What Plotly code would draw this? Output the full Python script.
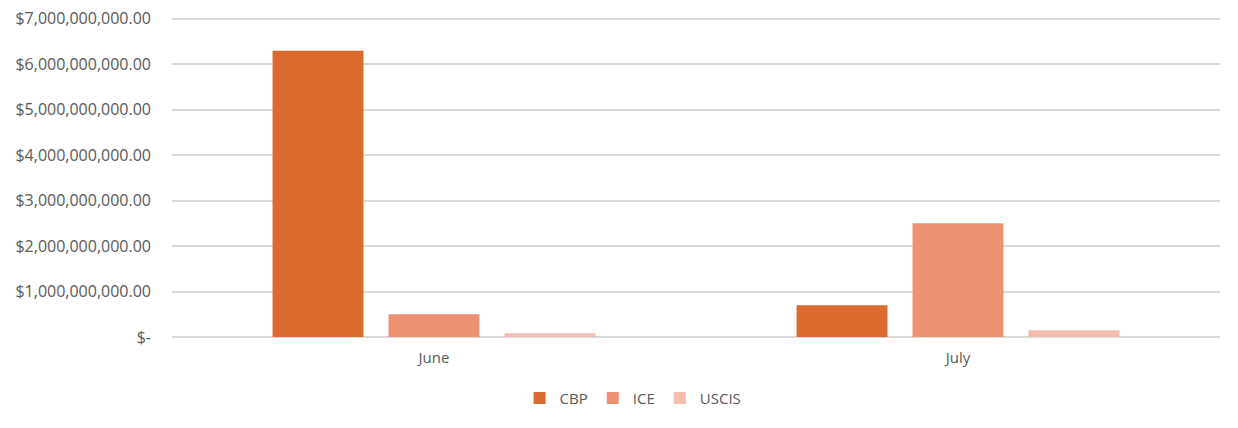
import plotly.graph_objects as go

# data
months = ["June", "July"]
cbp = [6.29e9, 0.70e9]
ice = [0.50e9, 2.50e9]
uscis = [0.08e9, 0.15e9]

tick_vals = [0, 1e9, 2e9, 3e9, 4e9, 5e9, 6e9, 7e9]
tick_text = ["$-"] + [f"${v:,.2f}" for v in tick_vals[1:]]

series = [
    ("CBP", cbp, "#DA6A2D"),
    ("ICE", ice, "#EC9272"),
    ("USCIS", uscis, "#F3BDB0"),
]

fig = go.Figure()
for name, vals, color in series:
    fig.add_trace(go.Bar(x=months, y=vals, name=name, marker=dict(color=color, line_width=0)))

# page body adds an 8px margin, so the figure is a little smaller than the window
fig.update_layout(
    width=1230, height=420,
    margin=dict(l=164, r=18, t=6, b=91),
    paper_bgcolor="white", plot_bgcolor="white",
    barmode="group", bargap=0.336, bargroupgap=0.216,
    font=dict(family="Open Sans, Liberation Sans, sans-serif", size=15, color="#595959"),
    showlegend=True,
    legend=dict(orientation="h", x=0.44, xanchor="center", y=-0.19, yanchor="middle",
                font=dict(size=15), itemwidth=30, traceorder="normal"),
    xaxis=dict(showgrid=False, ticks="", showline=False, zeroline=False,
               tickfont=dict(size=15), ticklabelstandoff=10, automargin=False),
    yaxis=dict(range=[0, 7.1e9], tickvals=tick_vals, ticktext=tick_text,
               showgrid=True, gridcolor="#D9D9D9", gridwidth=2,
               zeroline=True, zerolinecolor="#D9D9D9", zerolinewidth=2,
               ticks="", ticklabelstandoff=20, ticklabeloverflow="allow",
               automargin=False, tickfont=dict(size=16)),
)

fig.write_html("out.html")
